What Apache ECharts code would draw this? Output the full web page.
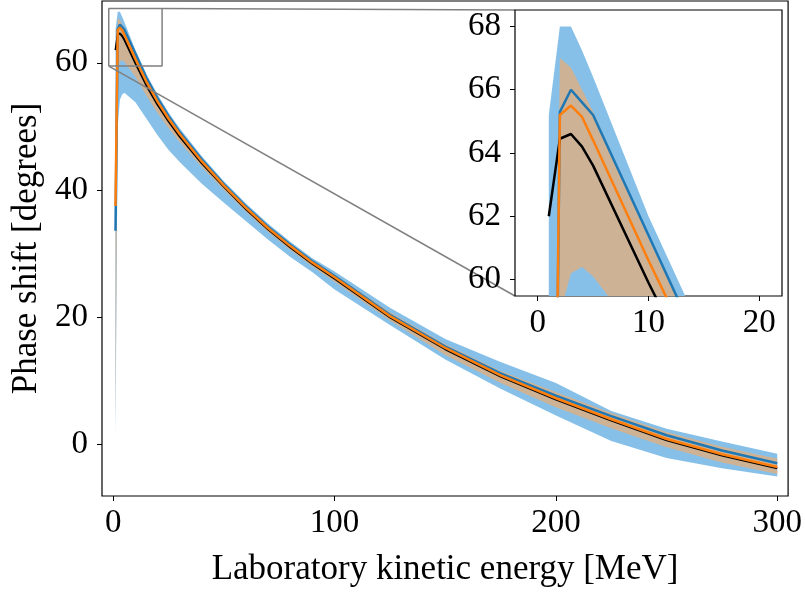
<!DOCTYPE html>
<html>
<head>
<meta charset="utf-8">
<script src="https://cdn.jsdelivr.net/npm/echarts@6/dist/echarts.min.js"></script>
<style>
  html, body { margin: 0; padding: 0; background: #fff; }
  #chart { width: 805px; height: 592px; }
</style>
</head>
<body>
<div id="chart"></div>
<script>
  // energies (MeV) and phase shifts (deg)
  var energy = [1, 2, 3, 4, 5, 10, 15, 20, 25, 30, 40, 50, 60, 70, 80, 90, 100, 125, 150, 175, 200, 225, 250, 275, 300];
  var blackVals  = [62.0, 64.45, 64.6, 64.2, 63.6, 59.9, 56.4, 53.4, 50.8, 48.4, 44.2, 40.5, 37.0, 33.8, 31.0, 28.4, 26.1, 20.0, 15.0, 10.7, 7.1, 3.8, 0.7, -1.7, -3.7];
  var orangeVals = [37.5, 65.2, 65.5, 65.14, 64.4, 60.6, 57.0, 53.9, 51.2, 48.8, 44.5, 40.7, 37.2, 34.0, 31.2, 28.6, 26.3, 20.2, 15.2, 10.9, 7.3, 4.0, 0.9, -1.5, -3.5];
  var blueVals   = [33.6, 65.3, 66.0, 65.6, 65.2, 61.4, 57.6, 54.4, 51.6, 49.1, 44.8, 40.9, 37.4, 34.2, 31.4, 28.8, 26.5, 20.4, 15.4, 11.2, 7.7, 4.5, 1.5, -0.9, -2.9];
  var blueHi = [65.2, 68.0, 68.0, 67.24, 66.4, 62.0, 58.2, 55.0, 52.2, 49.7, 45.3, 41.4, 37.9, 34.7, 31.9, 29.3, 27.2, 21.5, 16.6, 13.0, 9.7, 5.3, 2.5, 0.5, -1.4];
  var blueLo = [1.0, 50.0, 54.2, 55.0, 55.3, 53.8, 51.2, 48.6, 46.3, 44.4, 41.0, 38.0, 35.1, 32.2, 29.5, 27.1, 24.4, 18.8, 13.4, 8.8, 4.6, 0.6, -2.1, -3.7, -5.0];
  var tanHi  = [37.5, 67.0, 66.7, 66.0, 65.3, 61.3, 57.7, 54.6, 51.8, 49.3, 44.9, 41.0, 37.5, 34.3, 31.5, 28.9, 26.7, 20.8, 15.8, 11.6, 8.3, 5.0, 2.0, -0.3, -2.2];
  var tanLo  = [3.0, 58.9, 60.2, 60.4, 60.1, 57.8, 54.8, 52.1, 49.7, 47.5, 43.6, 40.0, 36.6, 33.4, 30.6, 28.0, 25.6, 19.5, 14.1, 9.7, 5.9, 2.6, -0.4, -2.8, -4.6];

  var mainXTicks = [0, 100, 200, 300];
  var mainYTicks = [0, 20, 40, 60];
  var insetXTicks = [0, 10, 20];
  var insetYTicks = [60, 62, 64, 66, 68];
  var zoomX = [-2.05, 22.05];
  var zoomY = [59.48, 68.52];

  var FONT = 'Liberation Serif';
  var chart = echarts.init(document.getElementById('chart'));

  function pairs(ys) {
    return energy.map(function (e, i) { return [e, ys[i]]; });
  }

  function lineSeries(ys, color, idx, z, w) {
    return {
      type: 'line', xAxisIndex: idx, yAxisIndex: idx, data: pairs(ys),
      showSymbol: false, silent: true, z: z, zlevel: idx,
      lineStyle: { color: color, width: w }
    };
  }

  // filled band between lo and hi, one polygon through the axes' scales
  function bandSeries(lo, hi, color, idx, z) {
    return {
      type: 'custom', xAxisIndex: idx, yAxisIndex: idx, data: [[0, 0]],
      silent: true, z: z, zlevel: idx,
      renderItem: function (params, api) {
        var pts = [];
        for (var i = 0; i < energy.length; i++) pts.push(api.coord([energy[i], hi[i]]));
        for (var j = energy.length - 1; j >= 0; j--) pts.push(api.coord([energy[j], lo[j]]));
        var cs = params.coordSys;
        return {
          type: 'polygon',
          shape: { points: pts },
          style: { fill: color },
          clipPath: { type: 'rect', shape: { x: cs.x, y: cs.y, width: cs.width, height: cs.height } }
        };
      }
    };
  }

  function xAx(idx, min, max, ticks, nameText) {
    return {
      type: 'value', gridIndex: idx, min: min, max: max, zlevel: idx,
      name: nameText, nameLocation: 'middle', nameGap: 56,
      nameTextStyle: { fontFamily: FONT, fontSize: 35, color: '#000' },
      axisLine: { show: false, onZero: false },
      splitLine: { show: false },
      axisTick: { show: true, customValues: ticks, length: 5, lineStyle: { color: '#000', width: 1 } },
      axisLabel: { customValues: ticks, fontFamily: FONT, fontSize: 33, color: '#000', margin: 11 }
    };
  }

  function yAx(idx, min, max, ticks, nameText) {
    return {
      type: 'value', gridIndex: idx, min: min, max: max, zlevel: idx,
      name: nameText, nameLocation: 'middle', nameGap: 58,
      nameTextStyle: { fontFamily: FONT, fontSize: 35, color: '#000' },
      axisLine: { show: false, onZero: false },
      splitLine: { show: false },
      axisTick: { show: true, customValues: ticks, length: 5, lineStyle: { color: '#000', width: 1 } },
      axisLabel: { customValues: ticks, fontFamily: FONT, fontSize: 33, color: '#000', margin: 14 }
    };
  }

  var series = [];
  // main plot
  series.push(bandSeries(blueLo, blueHi, '#86c0e8', 0, 2));
  series.push(bandSeries(tanLo, tanHi, '#cdb296', 0, 3));
  series.push(lineSeries(blueVals, '#1f77b4', 0, 4, 2.5));
  series.push(lineSeries(blackVals, '#000000', 0, 5, 2));
  series.push(lineSeries(orangeVals, '#ff7f0e', 0, 6, 2.5));
  // zoom box on the main plot
  series.push({
    type: 'line', xAxisIndex: 0, yAxisIndex: 0, showSymbol: false, silent: true, z: 8,
    data: [[zoomX[0], zoomY[0]], [zoomX[1], zoomY[0]], [zoomX[1], zoomY[1]], [zoomX[0], zoomY[1]], [zoomX[0], zoomY[0]]],
    lineStyle: { color: '#808080', width: 1.5 }
  });
  // inset
  series.push(bandSeries(blueLo, blueHi, '#86c0e8', 1, 2));
  series.push(bandSeries(tanLo, tanHi, '#cdb296', 1, 3));
  series.push(lineSeries(blueVals, '#1f77b4', 1, 4, 2.5));
  series.push(lineSeries(blackVals, '#000000', 1, 5, 2.5));
  series.push(lineSeries(orangeVals, '#ff7f0e', 1, 6, 2.5));

  chart.setOption({
    animation: false,
    backgroundColor: '#fff',
    grid: [
      { left: 102, right: 15, top: 1, bottom: 95, show: true, borderColor: '#000', borderWidth: 1.2, backgroundColor: 'transparent' },
      { left: 515, top: 10, width: 267, height: 286, show: true, borderColor: '#000', borderWidth: 1.2, backgroundColor: '#fff', zlevel: 1 }
    ],
    xAxis: [
      xAx(0, -5.1, 304.9, mainXTicks, 'Laboratory kinetic energy [MeV]'),
      xAx(1, zoomX[0], zoomX[1], insetXTicks, '')
    ],
    yAxis: [
      yAx(0, -8.05, 69.7, mainYTicks, 'Phase shift [degrees]'),
      yAx(1, zoomY[0], zoomY[1], insetYTicks, '')
    ],
    series: series
  });

  // connector lines from zoom box corners to inset corners
  var a1 = chart.convertToPixel({ xAxisIndex: 0, yAxisIndex: 0 }, [zoomX[0], zoomY[0]]);
  var b1 = chart.convertToPixel({ xAxisIndex: 1, yAxisIndex: 1 }, [zoomX[0], zoomY[0]]);
  var a2 = chart.convertToPixel({ xAxisIndex: 0, yAxisIndex: 0 }, [zoomX[1], zoomY[1]]);
  var b2 = chart.convertToPixel({ xAxisIndex: 1, yAxisIndex: 1 }, [zoomX[0], zoomY[1]]);
  chart.setOption({
    graphic: [
      { type: 'line', z: 20, silent: true, shape: { x1: a1[0], y1: a1[1], x2: b1[0], y2: b1[1] }, style: { stroke: '#808080', lineWidth: 1.5 } },
      { type: 'line', z: 20, silent: true, shape: { x1: a2[0], y1: a2[1], x2: b2[0], y2: b2[1] }, style: { stroke: '#808080', lineWidth: 1.5 } }
    ]
  });
</script>
</body>
</html>
